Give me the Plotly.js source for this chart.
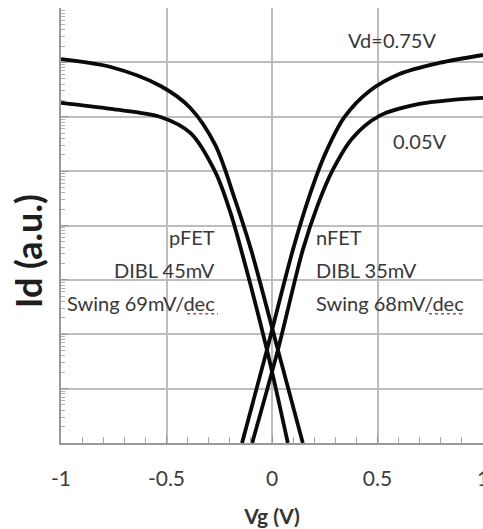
<!DOCTYPE html>
<html>
<head>
<meta charset="utf-8">
<script src="https://cdn.plot.ly/plotly-3.0.1.min.js"></script>
<style>
  html, body { margin: 0; padding: 0; background: #ffffff; }
  #chart { width: 483px; height: 529px; }
</style>
</head>
<body>
<div id="chart"></div>
<script>
// Transfer characteristics Id–Vg (log scale), nFET and pFET at two drain biases
const vgP075 = [-1.000, -0.764, -0.528, -0.387, -0.269, -0.175, -0.099, 0.028, 0.146];
const idP075 = [0.1148, 0.0822, 0.0368, 0.01452, 0.00303, 2.96e-4, 3.56e-5, 5.16e-7, 1.0e-8];

const vgP005 = [-1.000, -0.764, -0.528, -0.387, -0.269, -0.198, -0.146, -0.024, 0.075];
const idP005 = [0.01795, 0.0139, 0.00991, 0.00504, 9.66e-4, 1.78e-4, 3.56e-5, 5.16e-7, 1.0e-8];

const vgN075 = [-0.142, -0.024, 0.099, 0.179, 0.250, 0.344, 0.462, 0.604, 0.792, 1.000];
const idN075 = [1.0e-8, 5.16e-7, 3.56e-5, 3.65e-4, 1.99e-3, 9.91e-3, 0.0298, 0.0612, 0.0975, 0.1368];

const vgN005 = [-0.094, 0.028, 0.146, 0.217, 0.288, 0.382, 0.509, 0.698, 0.854, 1.000];
const idN005 = [1.0e-8, 5.16e-7, 3.56e-5, 2.39e-4, 1.05e-3, 4.07e-3, 0.01035, 0.01718, 0.02037, 0.0222];

const xTickVals = [-1, -0.5, 0, 0.5, 1];
const xTickText = ['-1', '-0.5', '0', '0.5', '1'];
const yDecades = [1e-8, 1e-7, 1e-6, 1e-5, 1e-4, 1e-3, 1e-2, 1e-1, 1];

// small ticks: every 0.1 V on x, 2..9 inside each decade on y
const xMinor = [];
for (let i = -9; i <= 9; i++) if (i % 5 !== 0) xMinor.push(i / 10);
const yMinor = [];
for (let e = -8; e < 0; e++) {
  for (let m = 2; m <= 9; m++) yMinor.push(m * Math.pow(10, e));
}

const lineStyle = { color: '#0a0a0a', width: 3.8, shape: 'spline', smoothing: 0.9 };
const mk = (x, y, name) => ({ x, y, name, type: 'scatter', mode: 'lines', line: lineStyle });

const traces = [
  mk(vgP075, idP075, 'pFET Vd=0.75V'),
  mk(vgP005, idP005, 'pFET Vd=0.05V'),
  mk(vgN075, idN075, 'nFET Vd=0.75V'),
  mk(vgN005, idN005, 'nFET Vd=0.05V'),
  // empty trace that carries the small-tick overlay axes
  { x: [], y: [], xaxis: 'x2', yaxis: 'y2', type: 'scatter', mode: 'lines', showlegend: false }
];

const txtFont = { family: 'Lato, "Open Sans", sans-serif', size: 20, color: '#383838' };
const ann = (text, x, y, xanchor) => ({
  text, x, y, xref: 'paper', yref: 'paper', xanchor, yanchor: 'middle',
  showarrow: false, font: txtFont
});

const gridCol = '#bdbdbd';
const axisCol = '#999999';

const layout = {
  width: 483, height: 529,
  margin: { l: 61, r: 0, t: 8, b: 86 },
  paper_bgcolor: '#ffffff', plot_bgcolor: '#ffffff',
  showlegend: false,
  xaxis: {
    range: [-1, 1],
    tickvals: xTickVals, ticktext: xTickText,
    showgrid: true, gridcolor: gridCol, gridwidth: 1.5,
    zeroline: false,
    showline: true, linecolor: axisCol, linewidth: 1.6,
    ticks: 'inside', ticklen: 8, tickcolor: axisCol, tickwidth: 1.2,
    tickfont: { family: 'Lato, sans-serif', size: 21, color: '#3c3c3c' },
    ticklabelstandoff: 16,
    ticklabeloverflow: 'allow',
    title: { text: 'Vg (V)', font: { family: 'Lato, sans-serif', size: 21, color: '#333333', weight: 'bold' }, standoff: 20 }
  },
  yaxis: {
    type: 'log',
    range: [-8, 0],
    tickvals: yDecades,
    showticklabels: false,
    showgrid: true, gridcolor: gridCol, gridwidth: 1.5,
    zeroline: false,
    showline: true, linecolor: axisCol, linewidth: 1.6,
    ticks: 'inside', ticklen: 7, tickcolor: axisCol, tickwidth: 1.2
  },
  xaxis2: {
    overlaying: 'x', anchor: 'y2', side: 'bottom',
    range: [-1, 1], tickvals: xMinor,
    showticklabels: false, showgrid: false, zeroline: false, showline: false,
    ticks: 'inside', ticklen: 6, tickcolor: '#a8a8a8', tickwidth: 1
  },
  yaxis2: {
    overlaying: 'y', anchor: 'x2', side: 'left',
    type: 'log', range: [-8, 0], tickvals: yMinor,
    showticklabels: false, showgrid: false, zeroline: false, showline: false,
    ticks: 'inside', ticklen: 4, tickcolor: '#b0b0b0', tickwidth: 1
  },
  annotations: [
    ann('Vd=0.75V', 0.785, 0.926, 'center'),
    ann('0.05V', 0.851, 0.694, 'center'),
    ann('pFET', 0.370, 0.474, 'right'),
    ann('DIBL 45mV', 0.370, 0.398, 'right'),
    ann('Swing 69mV/dec', 0.370, 0.322, 'right'),
    ann('nFET', 0.600, 0.474, 'left'),
    ann('DIBL 35mV', 0.600, 0.398, 'left'),
    ann('Swing 68mV/dec', 0.600, 0.322, 'left'),
    {
      text: '<b>Id (a.u.)</b>', textangle: -90,
      x: -0.078, y: 0.441, xref: 'paper', yref: 'paper',
      xanchor: 'center', yanchor: 'middle', showarrow: false,
      font: { family: 'Lato, sans-serif', size: 36, color: '#1e1e1e' }
    }
  ],
  shapes: [
    // spell-check underline beneath "dec"
    { type: 'line', xref: 'paper', yref: 'paper', x0: 0.299, x1: 0.372, y0: 0.297, y1: 0.297,
      line: { color: '#d23a3a', width: 1.5, dash: 'dot' } },
    { type: 'line', xref: 'paper', yref: 'paper', x0: 0.872, x1: 0.955, y0: 0.297, y1: 0.297,
      line: { color: '#d23a3a', width: 1.5, dash: 'dot' } }
  ]
};

Plotly.newPlot('chart', traces, layout, { displayModeBar: false });
</script>
</body>
</html>
